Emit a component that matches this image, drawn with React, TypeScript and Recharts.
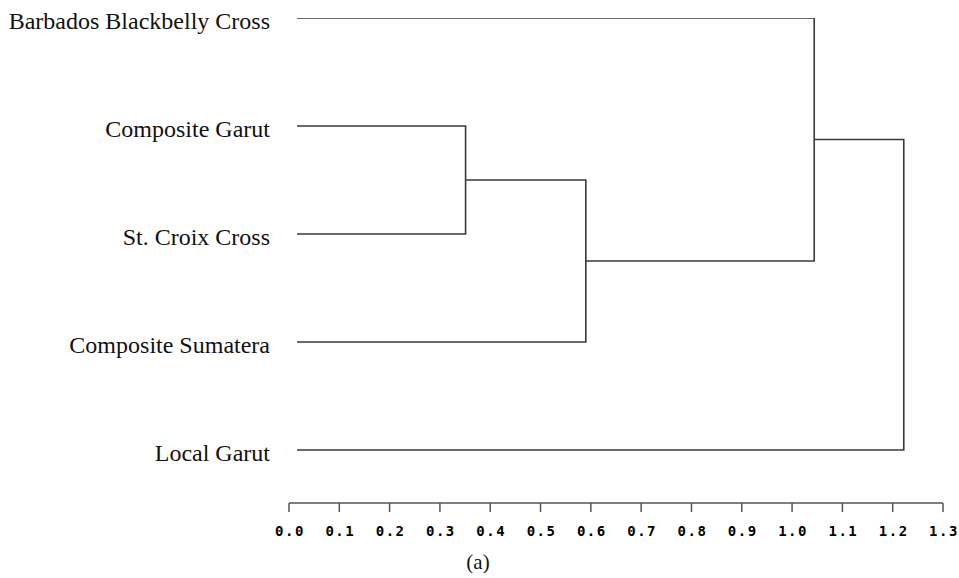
import React from "react";
import {
  ComposedChart,
  Line,
  XAxis,
  YAxis,
  Label,
} from "recharts";

// leaves, top to bottom
const leafNames = [
  "Barbados Blackbelly Cross",
  "Composite Garut",
  "St. Croix Cross",
  "Composite Sumatera",
  "Local Garut",
];
const leafStart = 0.016;

// merge steps (node ids: leaves 0-4, merges 5..)
const mergeLeft = [1, 5, 0, 7];
const mergeRight = [2, 3, 6, 4];
const mergeHeight = [0.351, 0.59, 1.044, 1.222];

const axisTicks = [0, 0.1, 0.2, 0.3, 0.4, 0.5, 0.6, 0.7, 0.8, 0.9, 1.0, 1.1, 1.2, 1.3];
const caption = "(a)";

const INK = "#3a3a3a";

function buildLinks() {
  const nodeX: number[] = leafNames.map(() => leafStart);
  const nodeY: number[] = leafNames.map((_, i) => i);
  const links: { x: number; y: number }[][] = [];
  mergeHeight.forEach((h, k) => {
    const a = mergeLeft[k];
    const b = mergeRight[k];
    links.push([
      { x: nodeX[a], y: nodeY[a] },
      { x: h, y: nodeY[a] },
      { x: h, y: nodeY[b] },
      { x: nodeX[b], y: nodeY[b] },
    ]);
    nodeX.push(h);
    nodeY.push((nodeY[a] + nodeY[b]) / 2);
  });
  return links;
}

export default function App() {
  const links = buildLinks();

  return (
    <div style={{ position: "absolute", left: 0, top: 0, background: "#fff" }}>
      <ComposedChart
        width={959}
        height={578}
        margin={{ top: 18, right: 16, bottom: 0, left: 0 }}
      >
        <XAxis
          type="number"
          dataKey="x"
          domain={[0, 1.3]}
          ticks={axisTicks}
          interval={0}
          allowDataOverflow
          height={75}
          stroke="#555"
          strokeWidth={1.5}
          tickSize={9}
          tickMargin={14}
          tickFormatter={(v: number) => v.toFixed(1)}
          tick={{
            fill: "#000",
            fontSize: 14,
            fontWeight: 900,
            fontFamily: "DejaVu Sans Mono",
            letterSpacing: 1.5,
            dx: 1,
          }}
        >
          <Label
            value={caption}
            position="insideBottom"
            offset={9}
            dx={-138}
            style={{ fill: "#111", fontSize: 21, fontFamily: "Liberation Serif" }}
          />
        </XAxis>
        <YAxis
          type="number"
          dataKey="y"
          reversed
          domain={[0, 4.4907]}
          allowDataOverflow
          ticks={[0, 1, 2, 3, 4]}
          interval={0}
          width={289}
          axisLine={false}
          tickLine={false}
          tickSize={0}
          tickMargin={19}
          tickFormatter={(v: number) => leafNames[v] ?? ""}
          tick={{
            fill: "#111",
            fontSize: 24,
            fontFamily: "Liberation Serif",
            dy: 2,
          }}
        />
        {links.map((pts, i) => (
          <Line
            key={i}
            data={pts}
            dataKey="y"
            type="linear"
            stroke={INK}
            strokeWidth={1.6}
            dot={false}
            activeDot={false}
            isAnimationActive={false}
          />
        ))}
      </ComposedChart>
    </div>
  );
}
